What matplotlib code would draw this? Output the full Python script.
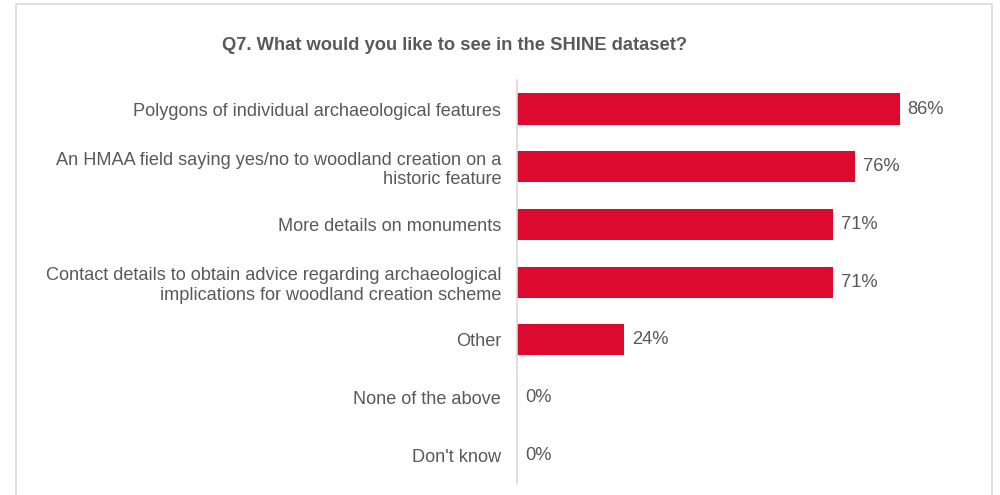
import matplotlib
matplotlib.use('Agg')
import matplotlib.pyplot as plt
from matplotlib.patches import Rectangle

plt.rcParams['font.family'] = ['Liberation Sans', 'DejaVu Sans']

# Survey answers and share of respondents (%)
categories = [
    'Polygons of individual archaeological features',
    'An HMAA field saying yes/no to woodland creation on a\nhistoric feature',
    'More details on monuments',
    'Contact details to obtain advice regarding archaeological\nimplications for woodland creation scheme',
    'Other',
    'None of the above',
    "Don't know",
]
values = [86, 76, 71, 71, 24, 0, 0]
value_labels = ['86%', '76%', '71%', '71%', '24%', '0%', '0%']
title = 'Q7. What would you like to see in the SHINE dataset?'

grey = '#595959'
red = '#DC0A2E'

fig = plt.figure(figsize=(10, 4.95), dpi=100)
fig.patches.append(Rectangle((0.016, -0.05), 0.976, 1.042, transform=fig.transFigure,
                             fill=False, edgecolor='#D9D9D9', linewidth=1.2))

ax = fig.add_axes([0.517, 0.022, 0.445, 0.816])
ypos = list(range(len(categories)))
ax.barh(ypos, values, height=0.54, color=red)
for y, v, lab in zip(ypos, values, value_labels):
    ax.text(v + 1.8, y, lab, va='center', ha='left', fontsize=13.2, color=grey)

ax.set_xlim(0, 100)
ax.set_ylim(len(categories) - 0.5, -0.5)
ax.set_yticks(ypos)
ax.set_yticklabels(categories, fontsize=13.1, color=grey, linespacing=1.2)
ax.tick_params(axis='y', length=0, pad=11.5)
ax.set_xticks([])
for s in ['top', 'right', 'bottom']:
    ax.spines[s].set_visible(False)
ax.spines['left'].set_color('#D9D9D9')
ax.spines['left'].set_linewidth(1.2)

fig.text(0.455, 1 - 45 / 495, title, ha='center', va='center', fontsize=13.2,
         fontweight='bold', color=grey)

fig.savefig('out.png', dpi=100)
